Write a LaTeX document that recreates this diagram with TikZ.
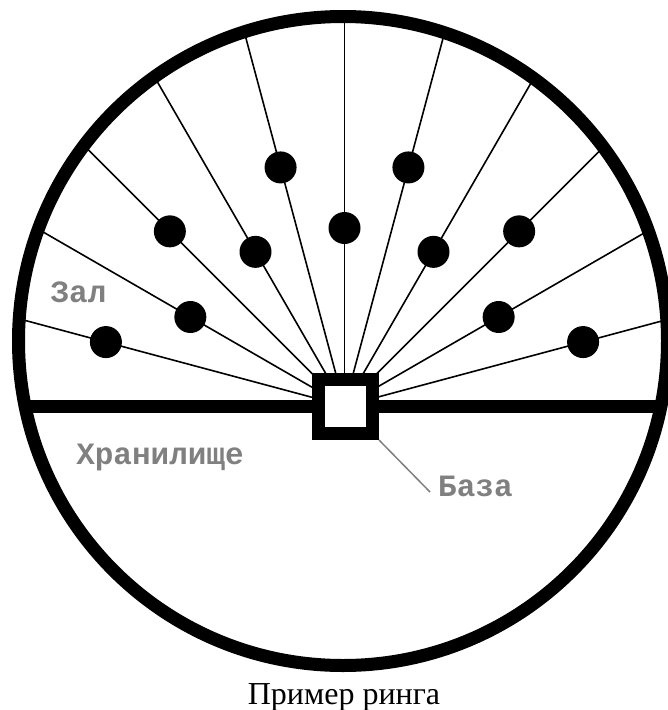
\documentclass[tikz,border=0pt]{standalone}
\usepackage{fontspec}
\setmainfont{Liberation Serif}
\newfontfamily\labfont{Liberation Mono}
\usetikzlibrary{calc}
\tikzset{
  ray/.style={line width=1.6pt, black},
  dot/.style={circle, fill=black, inner sep=0pt, minimum size=32pt},
  ringline/.style={line width=13pt, black},
  basebox/.style={draw=black, line width=13pt, fill=white, minimum size=54pt, inner sep=0pt},
  lab/.style={text=gray, font=\labfont\bfseries\fontsize{31}{36}\selectfont, inner sep=0pt},
  lead/.style={draw=gray, line width=1.5pt},
  title/.style={font=\fontsize{32}{38}\selectfont, inner sep=0pt}
}
\begin{document}
\begin{tikzpicture}[x=1pt,y=-1pt]
\useasboundingbox (0,0) rectangle (668,710);
\fill[white] (0,0) rectangle (668,710);
\coordinate (c) at (343,341);
\coordinate (o) at (344.5,406);
% rays clipped to ring interior
\begin{scope}
  \clip (c) circle[radius=324pt];
  \foreach \a in {15,30,...,165}{
    \draw[ray] (o) -- ($(o)+(\a:500pt)$);
  }
\end{scope}
% floor line
\begin{scope}
  \clip (c) circle[radius=324pt];
  \draw[ringline] (0,406) -- (668,406);
\end{scope}
% ring
\draw[ringline] (c) circle[radius=324.5pt];
% base
\node[basebox] (base) at (345.5,406.5) {};
% dots
\foreach \a/\r [count=\i] in {15/247,30/178,45/247,60/178,75/247,90/178,105/247,120/178,135/247,150/178,165/247}{
  \node[dot] (d\i) at ($(o)+(\a:\r pt)$) {};
}
% labels
\node[lab] (zal) at (78.5,292) {Зал};
\node[lab] (hran) at (160,457) {Хранилище};
\node[lab, anchor=west] (baza) at (438,486) {База};
\coordinate (leadend) at ($(baza.west)+(-8pt,-6pt)$);
\draw[lead] (base.south east) -- (leadend);
% title
\node[title, anchor=base] (ttl) at (344,704) {Пример ринга};
\end{tikzpicture}
\end{document}
